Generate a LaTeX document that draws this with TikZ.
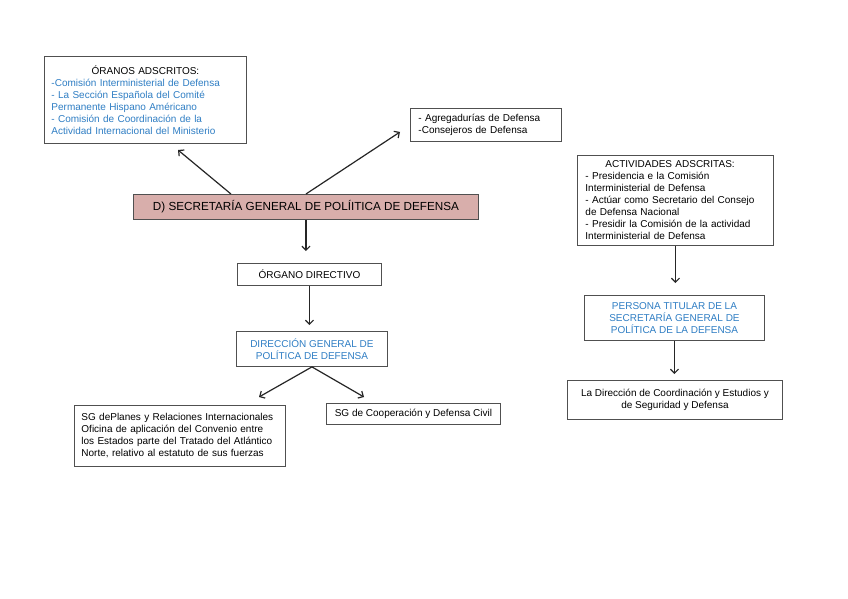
\documentclass[tikz,border=0pt]{standalone}
\usepackage{fontspec}
\setmainfont{Liberation Sans}
\usetikzlibrary{arrows.meta}
\definecolor{tblue}{HTML}{2F7EC4}
\definecolor{pinkf}{HTML}{D8AEAB}
\definecolor{bord}{HTML}{505050}
\begin{document}
\begin{tikzpicture}[x=1pt,y=-1pt,
  box/.style={draw=bord, line width=0.9pt, inner sep=0pt, anchor=north west,
    font=\fontsize{10}{12}\selectfont},
  arr/.style={draw=black!85, line width=1.2pt, -{Straight Barb[length=4pt,width=8pt]}}]
\path[use as bounding box, fill=white] (0,0) rectangle (848,599);

\node[box, minimum width=202, minimum height=87, text width=188, align=left] (oran) at (44,56)
 {\makebox[188pt][c]{ÓRANOS ADSCRITOS:}\\
  \color{tblue}-Comisión Interministerial de Defensa\\
  - La Sección Española del Comité\\
  Permanente Hispano Américano\\
  - Comisión de Coordinación de la\\
  Actividad Internacional del Ministerio};

\node[box, minimum width=151, minimum height=33, text width=135, align=left] (agr) at (410,108)
 {- Agregadurías de Defensa\\-Consejeros de Defensa};

\node[box, minimum width=345, minimum height=25, fill=pinkf, font=\fontsize{11.7}{14}\selectfont] (sg) at (133,194)
 {D) SECRETARÍA GENERAL DE POLÍITICA DE DEFENSA};

\node[box, minimum width=144, minimum height=22] (org) at (237,263) {ÓRGANO DIRECTIVO};

\node[box, minimum width=151, minimum height=35, align=center, text=tblue] (dir) at (236,331)
 {DIRECCIÓN GENERAL DE\\POLÍTICA DE DEFENSA};

\node[box, minimum width=211, minimum height=61, text width=197, align=left] (sgp) at (74,405)
 {SG dePlanes y Relaciones Internacionales\\
  Oficina de aplicación del Convenio entre\\
  los Estados parte del Tratado del Atlántico\\
  Norte, relativo al estatuto de sus fuerzas};

\node[box, minimum width=174, minimum height=21] (sgc) at (326,403) {SG de Cooperación y Defensa Civil};

\node[box, minimum width=196, minimum height=90, text width=180, align=left] (act) at (577,155)
 {\hspace*{20pt}ACTIVIDADES ADSCRITAS:\\
  - Presidencia e la Comisión\\
  Interministerial de Defensa\\
  - Actúar como Secretario del Consejo\\
  de Defensa Nacional\\
  - Presidir la Comisión de la actividad\\
  Interministerial de Defensa};

\node[box, minimum width=180, minimum height=45, align=center, text=tblue] (per) at (584,295)
 {PERSONA TITULAR DE LA\\SECRETARÍA GENERAL DE\\POLÍTICA DE LA DEFENSA};

\node[box, minimum width=215, minimum height=39, align=center] (ldir) at (567,380)
 {La Dirección de Coordinación y Estudios y\\de Seguridad y Defensa};

\coordinate (t1) at (178,150);
\coordinate (t2) at (400,132);
\coordinate (t3) at (259,397);
\coordinate (t4) at (364,397);

\draw[arr] ([xshift=-75pt]sg.north) -- (t1);
\draw[arr] (sg.north) -- (t2);
\draw[arr, shorten >=12pt] (sg.south) -- (sg.south |- org.north);
\draw[arr, shorten >=6pt] (org.south) -- (org.south |- dir.north);
\draw[arr] (dir.south) -- (t3);
\draw[arr] (dir.south) -- (t4);
\draw[arr, shorten >=12pt] (act.south) -- (act.south |- per.north);
\draw[arr, shorten >=6pt] (per.south) -- (per.south |- ldir.north);
\end{tikzpicture}
\end{document}
